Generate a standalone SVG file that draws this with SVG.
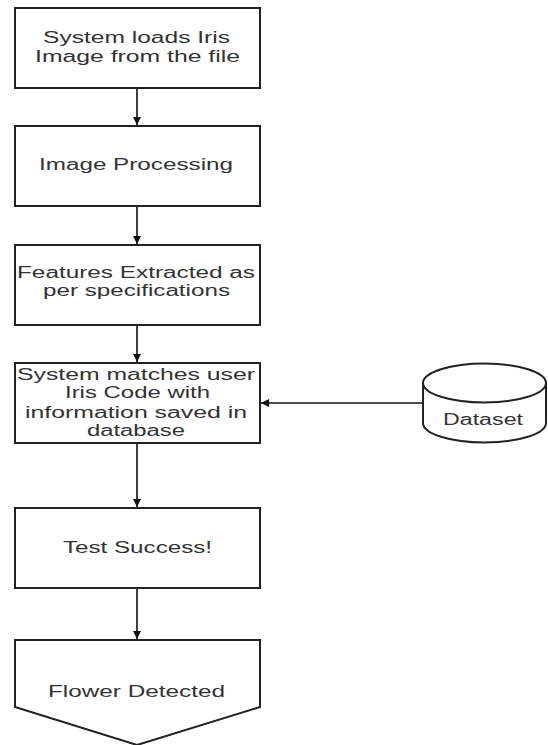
<svg xmlns="http://www.w3.org/2000/svg" width="548" height="745" viewBox="0 0 548 745">
<defs>
<style>
.box{fill:#fff;stroke:#222;stroke-width:2}
.t{font-family:"Liberation Sans",Arial,sans-serif;font-size:16px;fill:#333;text-anchor:start}
.c{stroke:#111;stroke-width:1.6;fill:none}
</style>
<marker id="ah" viewBox="0 0 10 10" refX="10" refY="5" markerWidth="5" markerHeight="5" orient="auto" markerUnits="strokeWidth">
<path d="M0,0 L10,5 L0,10 Z" fill="#111"/>
</marker>
</defs>
<rect width="548" height="745" fill="#fff"/>
<g id="connectors">
<line class="c" x1="137" y1="88" x2="137" y2="125" marker-end="url(#ah)"/>
<line class="c" x1="137" y1="206" x2="137" y2="244" marker-end="url(#ah)"/>
<line class="c" x1="137" y1="325" x2="137" y2="362" marker-end="url(#ah)"/>
<line class="c" x1="137" y1="443" x2="137" y2="507" marker-end="url(#ah)"/>
<line class="c" x1="137" y1="588" x2="137" y2="639" marker-end="url(#ah)"/>
<line class="c" x1="423" y1="403" x2="261" y2="403" marker-end="url(#ah)"/>
</g>
<g id="n1">
<rect class="box" x="15" y="8" width="245" height="80"/>
<text class="t" x="43" y="43" textLength="187" lengthAdjust="spacingAndGlyphs">System loads Iris</text>
<text class="t" x="35" y="62" textLength="205" lengthAdjust="spacingAndGlyphs">Image from the file</text>
</g>
<g id="n2">
<rect class="box" x="15" y="126" width="245" height="80"/>
<text class="t" x="39" y="170" textLength="194" lengthAdjust="spacingAndGlyphs">Image Processing</text>
</g>
<g id="n3">
<rect class="box" x="15" y="245" width="245" height="80"/>
<text class="t" x="17" y="278" textLength="238" lengthAdjust="spacingAndGlyphs">Features Extracted as</text>
<text class="t" x="43" y="296" textLength="187" lengthAdjust="spacingAndGlyphs">per specifications</text>
</g>
<g id="n4">
<rect class="box" x="15" y="363" width="245" height="80"/>
<text class="t" x="17" y="380" textLength="238" lengthAdjust="spacingAndGlyphs">System matches user</text>
<text class="t" x="65" y="398" textLength="145" lengthAdjust="spacingAndGlyphs">Iris Code with</text>
<text class="t" x="25" y="418" textLength="222" lengthAdjust="spacingAndGlyphs">information saved in</text>
<text class="t" x="87" y="436" textLength="98" lengthAdjust="spacingAndGlyphs">database</text>
</g>
<g id="n5">
<rect class="box" x="15" y="508" width="245" height="80"/>
<text class="t" x="63" y="553" textLength="149" lengthAdjust="spacingAndGlyphs">Test Success!</text>
</g>
<g id="n6">
<path class="box" d="M15,640 L260,640 L260,707 L137,745 L15,707 Z"/>
<text class="t" x="48" y="697" textLength="177" lengthAdjust="spacingAndGlyphs">Flower Detected</text>
</g>
<g id="dataset">
<path class="box" d="M423,383 L423,423 A61.5,19.5 0 0 0 546,423 L546,383"/>
<ellipse class="box" cx="484.5" cy="383" rx="61.5" ry="19.5"/>
<text class="t" x="443" y="425" textLength="80" lengthAdjust="spacingAndGlyphs">Dataset</text>
</g>
</svg>
